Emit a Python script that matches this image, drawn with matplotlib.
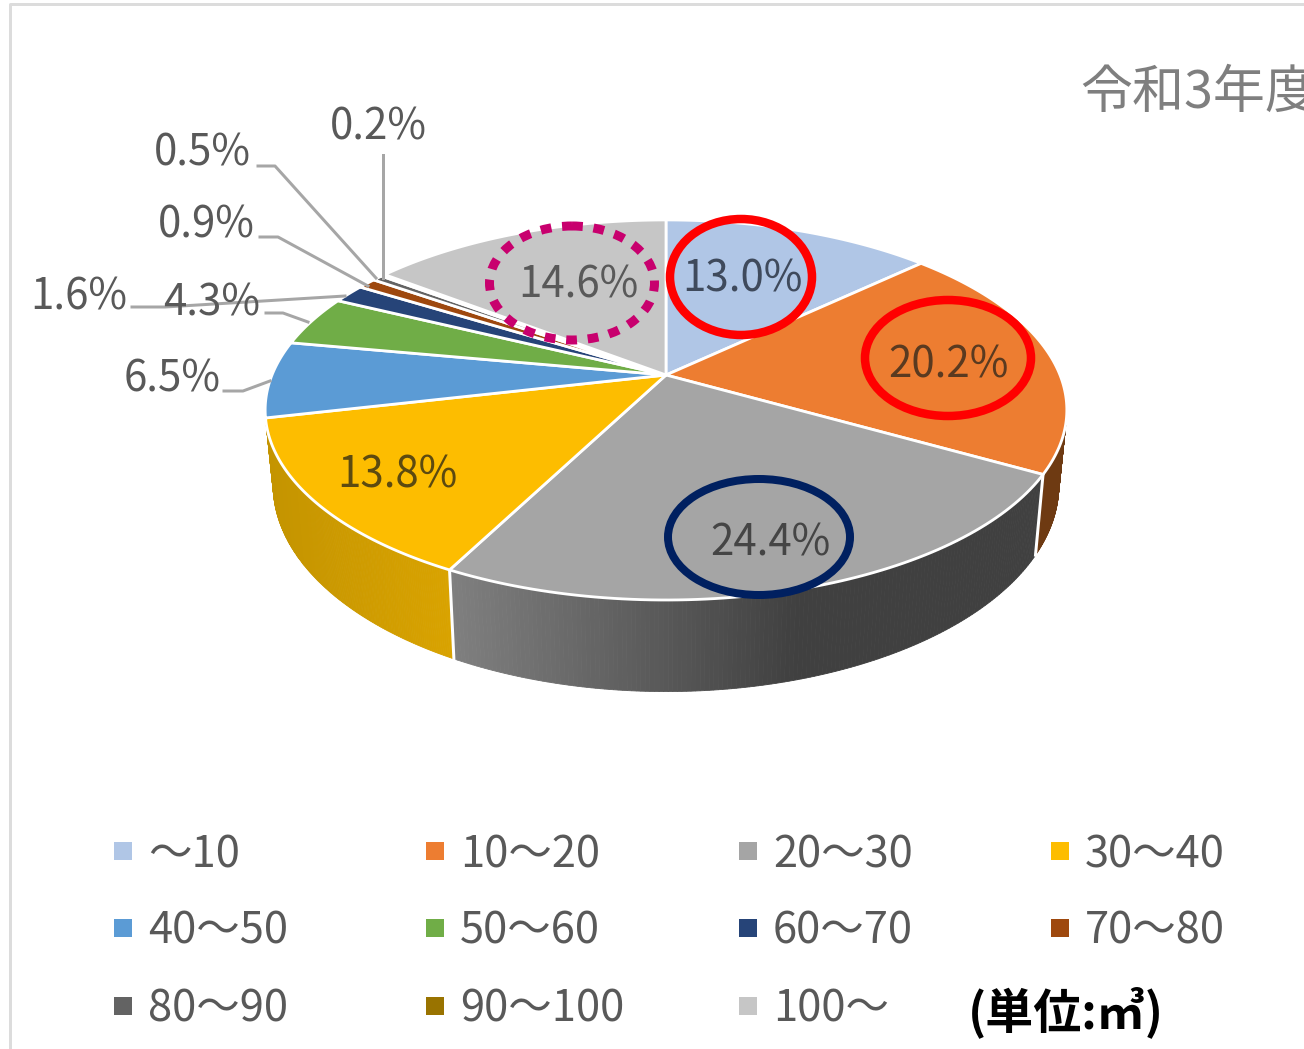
import numpy as np
import matplotlib
matplotlib.use("Agg")
import matplotlib.pyplot as plt
from matplotlib.patches import Ellipse, Polygon

plt.rcParams['font.family'] = ['Noto Sans CJK JP', 'DejaVu Sans']

# data
categories = ['～10', '10～20', '20～30', '30～40', '40～50', '50～60',
              '60～70', '70～80', '80～90', '90～100', '100～']
values = [13.0, 20.2, 24.4, 13.8, 6.5, 4.3, 1.6, 0.9, 0.5, 0.2, 14.6]
colors = ['#B0C6E6', '#ED7D31', '#A5A5A5', '#FDBD00', '#5B9BD5', '#70AD47',
          '#264478', '#9E480E', '#636363', '#997300', '#C6C6C6']
side_left = ['#8A9BB5', '#6E3A12', '#808080', '#D9A300', '#3F6C95', '#4E7932',
             '#1A2F54', '#6E320A', '#454545', '#6B5000', '#8A8A8A']
side_right = ['#8A9BB5', '#6E3A12', '#404040', '#C49400', '#3F6C95', '#4E7932',
              '#1A2F54', '#6E320A', '#454545', '#6B5000', '#8A8A8A']

# label anchor in pixels, same order as values
label_pos = [(742, 275), (948, 361), (770, 538), (397, 470), (172, 374), (212, 298),
             (79, 292), (206, 220), (202, 149), (378, 123), (578, 281)]
label_col = ['#3F4A5C', '#5A3A20', '#454545', '#5C4A10', '#595959', '#595959',
             '#595959', '#595959', '#595959', '#595959', '#595959']

leaders = [[(224, 391), (243, 391), (270, 381)],
           [(266, 313), (283, 313), (308, 322)],
           [(132, 307), (165, 307), (345, 296)],
           [(260, 237), (278, 237), (368, 286)],
           [(258, 166), (275, 166), (376, 278)],
           [(383, 155), (383, 278)]]

legend_x = [123, 435, 748, 1060]
legend_y = [851, 928, 1006]

W, H = 1304, 1049
PX = 72 / 100
FS = 42 * PX
FS_LEGEND = 43.5 * PX

# pie geometry: circle seen in perspective
CX, CY = 666, 375
R, B, K = 394, 183.6, 0.184


def top_ring(ang):
    u, v = np.sin(ang), np.cos(ang)
    w = 1 + K * v
    return CX + R * u / w, CY - B * v / w


def low_ring(ang):
    x, y = top_ring(ang)
    return CX + (x - CX) * 0.98, 447 + 1.087 * (y - CY)


def mix(c1, c2, t):
    a = np.array(matplotlib.colors.to_rgb(c1))
    b = np.array(matplotlib.colors.to_rgb(c2))
    return tuple(a + (b - a) * t)


fig = plt.figure(figsize=(W / 100, H / 100), dpi=100)
ax = fig.add_axes([0, 0, 1, 1])
ax.set_xlim(0, W)
ax.set_ylim(H, 0)
ax.axis('off')

# thin frame of the original screenshot
ax.plot([10, 10, W], [H, 4, 4], color='#DCDCDC', lw=3 * PX, zorder=1)

edges = np.radians(np.concatenate([[0], np.cumsum(values)]) * 3.6)

# side wall, only orange, grey and yellow show
for i in [1, 2, 3]:
    a0, a1 = max(edges[i], np.radians(85)), edges[i + 1]
    steps = np.linspace(a0, a1, 160)
    xs0, _ = top_ring(a0)
    xs1, _ = top_ring(a1)
    for s0, s1 in zip(steps[:-1], steps[1:]):
        x0, y0 = top_ring(s0)
        x1, y1 = top_ring(s1)
        x2, y2 = low_ring(s1)
        x3, y3 = low_ring(s0)
        t = np.clip((xs0 - x0) / max(abs(xs0 - xs1), 1), 0, 1)
        if i == 2:
            t = np.clip((x0 - 449) / 350, 0, 1)
            c = mix(side_left[i], side_right[i], t)
        else:
            c = mix(side_right[i], side_left[i], 1 - t)
        ax.add_patch(Polygon([(x0, y0), (x1, y1), (x2, y2), (x3, y3)], closed=True,
                             facecolor=c, edgecolor=c, lw=0.6, zorder=2))
    # white seam between the wall pieces
    if i > 1:
        xa, ya = top_ring(edges[i])
        xb, yb = low_ring(edges[i])
        ax.plot([xa, xb], [ya, yb], color='white', lw=3 * PX, zorder=3)

# top face
for i in range(len(values)):
    ang = np.linspace(edges[i], edges[i + 1], 80)
    xs, ys = top_ring(ang)
    pts = [(CX, CY)] + list(zip(xs, ys))
    ax.add_patch(Polygon(pts, closed=True, facecolor=colors[i], edgecolor='white',
                         lw=2.8 * PX, joinstyle='round', zorder=4))

# leader lines
for pts in leaders:
    ax.plot([p[0] for p in pts], [p[1] for p in pts], color='#A6A6A6',
            lw=3 * PX, zorder=5)

# percent labels
for v, p, c in zip(values, label_pos, label_col):
    ax.text(p[0], p[1], f'{v:.1f}%', color=c, fontsize=FS, ha='center',
            va='center_baseline', zorder=7)

# hand drawn rings from the original
ax.add_patch(Ellipse((741, 277), 142, 116, fill=False, ec='#FF0000', lw=8.5 * PX, zorder=8))
ax.add_patch(Ellipse((948, 358), 166, 116, fill=False, ec='#FF0000', lw=8.5 * PX, zorder=8))
ax.add_patch(Ellipse((759, 537), 182, 116, fill=False, ec='#002060', lw=8 * PX, zorder=8))
ax.add_patch(Ellipse((572, 283), 165, 114, fill=False, ec='#C8006E', lw=9 * PX,
                     ls=(0, (1.2, 1.2)), zorder=8))

# title is cut off by the picture edge
ax.text(1080, 87, '令和3年度', color='#7F7F7F', fontsize=52 * PX, ha='left',
        va='center_baseline', clip_on=True, zorder=6)

# legend
for i, name in enumerate(categories):
    x = legend_x[i % 4]
    y = legend_y[i // 4]
    ax.scatter([x], [y], marker='s', s=(18 * PX) ** 2, color=colors[i], lw=0, zorder=6)
    ax.text(x + 25, y - 1, name, color='#595959', fontsize=FS_LEGEND, ha='left',
            va='center_baseline', zorder=6)

ax.text(968, 1007, '(単位:㎥)', color='black', fontsize=48 * PX, fontweight='bold',
        ha='left', va='center_baseline', zorder=6)

fig.savefig('out.png', dpi=100)
